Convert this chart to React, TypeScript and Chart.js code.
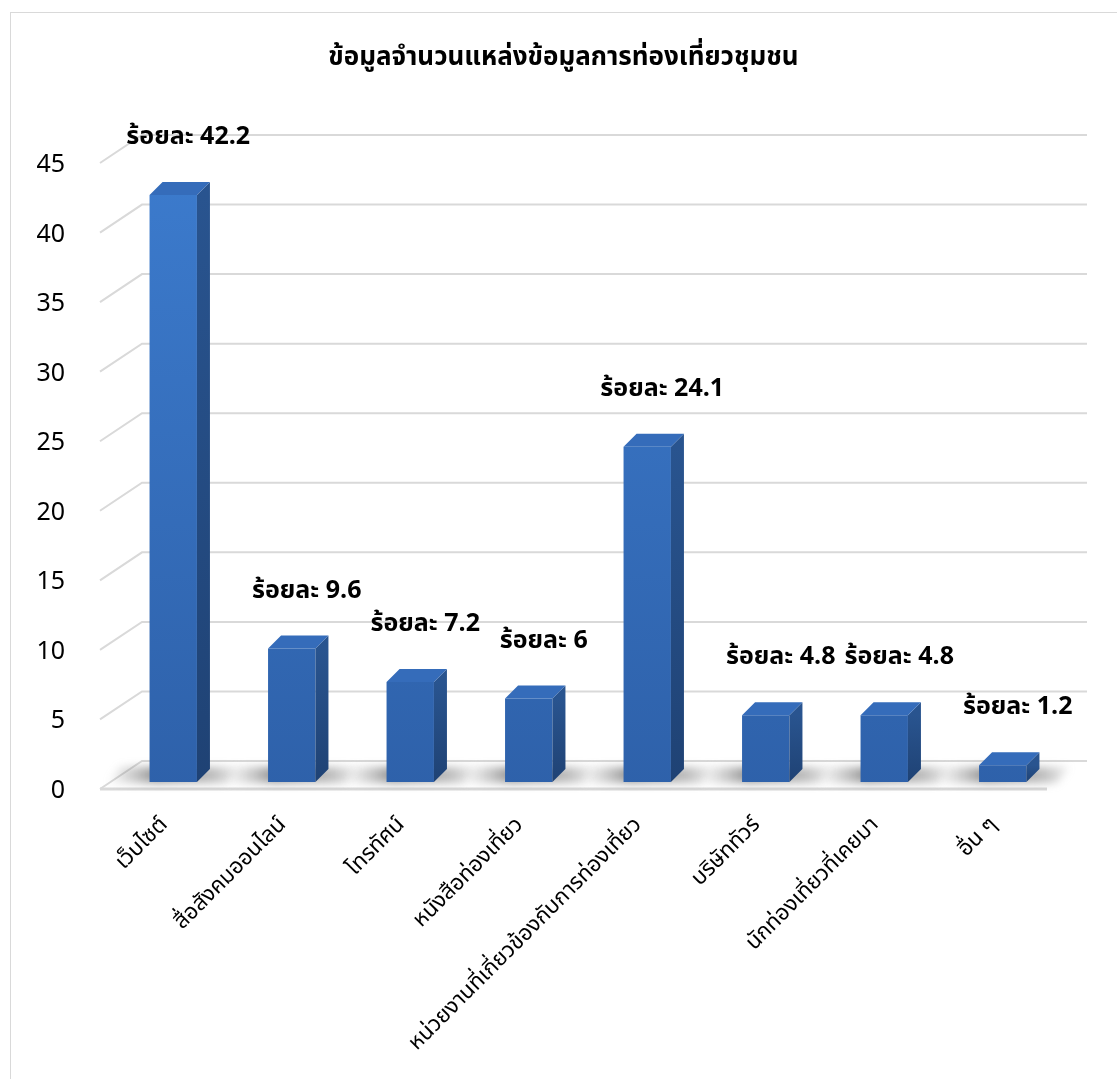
import React, { useEffect, useRef } from "react";
import { Chart, registerables } from "chart.js";

Chart.register(...registerables);

const titleText = "ข้อมูลจำนวนแหล่งข้อมูลการท่องเที่ยวชุมชน";
const categories = [
  "เว็บไซต์",
  "สื่อสังคมออนไลน์",
  "โทรทัศน์",
  "หนังสือท่องเที่ยว",
  "หน่วยงานที่เกี่ยวข้องกับการท่องเที่ยว",
  "บริษัททัวร์",
  "นักท่องเที่ยวที่เคยมา",
  "อื่น ๆ",
];
const percentages = [42.2, 9.6, 7.2, 6, 24.1, 4.8, 4.8, 1.2];
const labelPrefix = "ร้อยละ";
const yMin = 0;
const yMax = 45;
const yStep = 5;

const FONT = '"Noto Sans Thai", Tahoma, "Noto Sans", "DejaVu Sans", sans-serif';
const W = 1117;
const H = 1079;
const WALL_DX = 42;
const WALL_DY = 28;
const BAR_D = 13;

const threeD = {
  id: "threeD",
  beforeDatasetsDraw(chart: any) {
    const { ctx, chartArea } = chart;
    const ys = chart.scales.y;
    const x0 = chartArea.left - 14;
    const xEnd = chartArea.right + 25;
    ctx.save();
    // title
    ctx.fillStyle = "#000";
    ctx.font = `bold 26px ${FONT}`;
    ctx.textAlign = "center";
    ctx.textBaseline = "middle";
    ctx.fillText(titleText, W / 2 + 5, 60);

    ctx.strokeStyle = "#d9d9d9";
    ctx.lineWidth = 2;
    ys.ticks.forEach((t: any) => {
      const py = ys.getPixelForValue(t.value);
      ctx.beginPath();
      ctx.moveTo(x0, py);
      ctx.lineTo(x0 + WALL_DX, py - WALL_DY);
      ctx.lineTo(xEnd, py - WALL_DY);
      ctx.stroke();
    });
    const p0 = ys.getPixelForValue(0);
    ctx.lineWidth = 3;
    ctx.beginPath();
    ctx.moveTo(x0, p0);
    ctx.lineTo(chartArea.right - 15, p0);
    ctx.stroke();

    // floor shadows
    const meta = chart.getDatasetMeta(0);
    ctx.filter = "blur(4px)";
    meta.data.forEach((bar: any) => {
      const { x, base, width } = bar.getProps(["x", "base", "width"], true);
      const l = x - width / 2;
      const r = x + width / 2;
      const g = ctx.createLinearGradient(l - 45, 0, r + BAR_D + 40, 0);
      g.addColorStop(0, "rgba(140,140,140,0)");
      g.addColorStop(0.35, "rgba(90,90,90,0.65)");
      g.addColorStop(0.75, "rgba(110,110,110,0.45)");
      g.addColorStop(1, "rgba(140,140,140,0)");
      ctx.fillStyle = g;
      ctx.beginPath();
      ctx.moveTo(l - 42, base + 1);
      ctx.lineTo(r + 30, base + 1);
      ctx.lineTo(r + 30 + BAR_D, base - BAR_D - 2);
      ctx.lineTo(l - 42 + BAR_D, base - BAR_D - 2);
      ctx.closePath();
      ctx.fill();
    });
    ctx.filter = "none";
    ctx.restore();
  },
  afterDatasetsDraw(chart: any) {
    const { ctx } = chart;
    const meta = chart.getDatasetMeta(0);
    ctx.save();
    meta.data.forEach((bar: any, i: number) => {
      const { x, y, base, width } = bar.getProps(["x", "y", "base", "width"], true);
      const l = x - width / 2;
      const r = x + width / 2;
      // side face
      const sg = ctx.createLinearGradient(0, y, 0, base);
      sg.addColorStop(0, "#29548f");
      sg.addColorStop(1, "#1f4274");
      ctx.fillStyle = sg;
      ctx.beginPath();
      ctx.moveTo(r, y);
      ctx.lineTo(r + BAR_D, y - BAR_D);
      ctx.lineTo(r + BAR_D, base - BAR_D);
      ctx.lineTo(r, base);
      ctx.closePath();
      ctx.fill();
      // top face
      ctx.fillStyle = "#356cba";
      ctx.beginPath();
      ctx.moveTo(l, y);
      ctx.lineTo(l + BAR_D, y - BAR_D);
      ctx.lineTo(r + BAR_D, y - BAR_D);
      ctx.lineTo(r, y);
      ctx.closePath();
      ctx.fill();
      // data label
      ctx.fillStyle = "#000";
      ctx.font = `bold 25px ${FONT}`;
      ctx.textAlign = "center";
      ctx.textBaseline = "middle";
      ctx.fillText(`${labelPrefix} ${percentages[i]}`, x + 15, y - 56);
    });
    ctx.restore();
  },
};

export default function App() {
  const ref = useRef<HTMLCanvasElement>(null);
  useEffect(() => {
    document.body.style.margin = "0";
    const canvas = ref.current!;
    const chart = new Chart(canvas, {
      type: "bar",
      data: {
        labels: categories,
        datasets: [
          {
            data: percentages,
            yAxisID: "yBar",
            backgroundColor: (c: any) => {
              const area = c.chart.chartArea;
              if (!area) return "#3572c2";
              const g = c.chart.ctx.createLinearGradient(0, area.top, 0, area.bottom);
              g.addColorStop(0, "#3c7bcd");
              g.addColorStop(1, "#2e61aa");
              return g;
            },
            borderWidth: 0,
            categoryPercentage: 1,
            barPercentage: 0.4,
          },
        ],
      },
      options: {
        animation: false,
        responsive: false,
        maintainAspectRatio: false,
        layout: { padding: { left: 0, right: 55, top: 163, bottom: 0 } },
        plugins: {
          legend: { display: false },
          tooltip: { enabled: false },
          title: { display: false },
        },
        scales: {
          x: {
            grid: { display: false, drawTicks: false },
            border: { display: false },
            ticks: {
              color: "#000",
              font: { family: FONT, size: 22 },
              maxRotation: 45,
              minRotation: 45,
              autoSkip: false,
              padding: 24,
              labelOffset: -8,
            },
            afterFit: (s: any) => {
              s.height = H - 789;
            },
          },
          y: {
            min: yMin,
            max: yMax,
            grid: { display: false, drawTicks: false },
            border: { display: false },
            ticks: {
              stepSize: yStep,
              color: "#000",
              font: { family: FONT, size: 25 },
              padding: 49,
              labelOffset: 4,
            },
            afterFit: (s: any) => {
              s.width = 114;
            },
          },
          yBar: {
            display: false,
            min: yMin - 0.5,
            max: yMax - 0.5,
          },
        },
      },
      plugins: [threeD],
    });
    return () => chart.destroy();
  }, []);
  return (
    <div style={{ position: "relative", width: W, height: H, background: "#fff" }}>
      <div
        style={{
          position: "absolute",
          left: 10,
          top: 12,
          right: 0,
          bottom: 0,
          borderLeft: "1px solid #d9d9d9",
          borderTop: "1px solid #d9d9d9",
        }}
      />
      <canvas ref={ref} width={W} height={H} style={{ position: "absolute", left: 0, top: 0 }} />
    </div>
  );
}
